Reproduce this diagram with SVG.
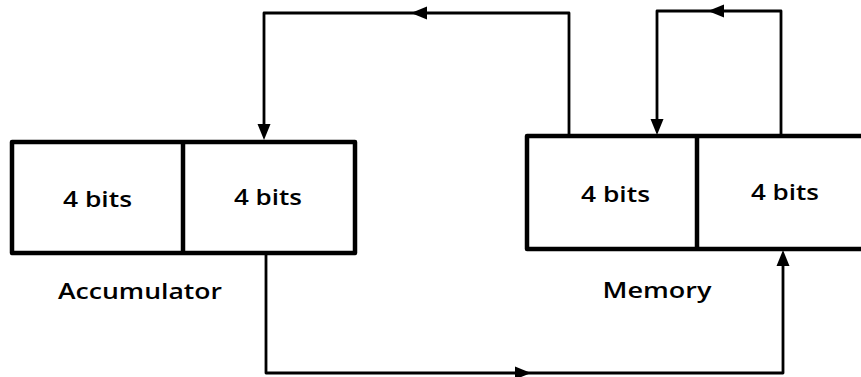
<svg xmlns="http://www.w3.org/2000/svg" width="861" height="377" viewBox="0 0 861 377">
<style>
.box{fill:none;stroke:#000;stroke-width:4.5;stroke-linejoin:round}
.div{stroke:#000;stroke-width:4.5}
.con{fill:none;stroke:#000;stroke-width:2.8;stroke-linejoin:round}
.lbl{font-family:"Open Sans","Liberation Sans",Arial,sans-serif;font-weight:600;font-size:22px;fill:#000;text-anchor:middle}
</style>
<defs>
<path id="ah" d="M0,0 L-16,-6.5 L-16,6.5 Z" fill="#000"/>
</defs>
<rect width="861" height="377" fill="#fff"/>
<g id="accumulator">
<rect class="box" x="12" y="142" width="343" height="111"/>
<line class="div" x1="183" y1="142" x2="183" y2="253"/>
<text class="lbl" x="97.5" y="207" textLength="69" lengthAdjust="spacingAndGlyphs">4 bits</text>
<text class="lbl" x="268" y="205" textLength="68" lengthAdjust="spacingAndGlyphs">4 bits</text>
<text class="lbl" x="140" y="299" textLength="164" lengthAdjust="spacingAndGlyphs">Accumulator</text>
</g>
<g id="memory">
<rect class="box" x="527" y="136" width="350" height="113"/>
<line class="div" x1="697" y1="136" x2="697" y2="249"/>
<text class="lbl" x="615.5" y="202" textLength="69" lengthAdjust="spacingAndGlyphs">4 bits</text>
<text class="lbl" x="785" y="200" textLength="68" lengthAdjust="spacingAndGlyphs">4 bits</text>
<text class="lbl" x="657" y="298" textLength="109" lengthAdjust="spacingAndGlyphs">Memory</text>
</g>
<g id="connectors">
<polyline class="con" points="569,136 569,13 264,13 264,126"/>
<use href="#ah" transform="translate(264,140) rotate(90)"/>
<use href="#ah" transform="translate(411,13) rotate(180)"/>
<polyline class="con" points="781,136 781,11 657,11 657,120"/>
<use href="#ah" transform="translate(657,135) rotate(90)"/>
<use href="#ah" transform="translate(708,11) rotate(180)"/>
<polyline class="con" points="266,253 266,373 783,373 783,264"/>
<use href="#ah" transform="translate(531,373)"/>
<use href="#ah" transform="translate(783,250) rotate(-90)"/>
</g>
</svg>
